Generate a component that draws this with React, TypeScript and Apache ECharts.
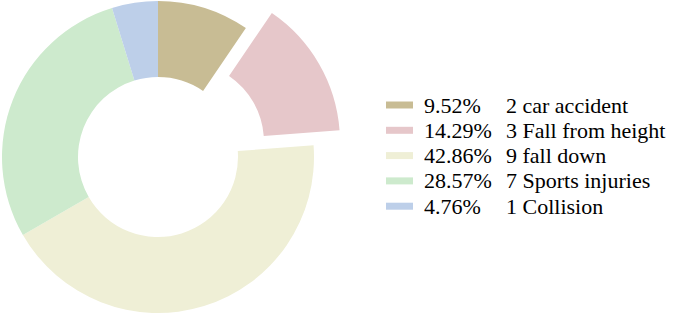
import React, { useEffect, useRef } from "react";
import * as echarts from "echarts";

const categories = ["2 car accident", "3 Fall from height", "9 fall down", "7 Sports injuries", "1 Collision"];
const values = [2, 3, 9, 6, 1];
const colors = ["#c8bc94", "#e6c7ca", "#efefd6", "#cdeacd", "#bdcfe9"];
const explodedIndex = 1;

export default function App() {
  const ref = useRef<HTMLDivElement>(null);
  useEffect(() => {
    if (!ref.current) return;
    const chart = echarts.init(ref.current, null, { renderer: "svg" });
    const total = values.reduce((a, b) => a + b, 0);
    const serif = "Liberation Serif";
    chart.setOption({
      animation: false,
      legend: {
        orient: "vertical",
        left: 381,
        top: 89,
        itemWidth: 27,
        itemHeight: 7,
        itemGap: 3.3,
        icon: "rect",
        selectedMode: false,
        data: categories,
        formatter: (name: string) => {
          const i = categories.indexOf(name);
          const pct = ((values[i] / total) * 100).toFixed(2) + "%";
          return `{p|${pct}}{n|${name}}`;
        },
        textStyle: {
          fontFamily: serif,
          fontSize: 22,
          color: "#000",
          padding: [0, 0, 0, 6],
          rich: {
            p: { width: 82, fontFamily: serif, fontSize: 22, lineHeight: 22, color: "#000" },
            n: { fontFamily: serif, fontSize: 22, lineHeight: 22, color: "#000" },
          },
        },
      },
      series: [
        {
          type: "pie",
          center: [158, 157],
          radius: [80, 156],
          startAngle: 90,
          clockwise: true,
          selectedMode: "single",
          selectedOffset: 30,
          label: { show: false },
          labelLine: { show: false },
          emphasis: { disabled: true },
          data: categories.map((name, i) => ({
            name,
            value: values[i],
            selected: i === explodedIndex,
            itemStyle: { color: colors[i] },
          })),
        },
      ],
    });
    return () => chart.dispose();
  }, []);
  return <div ref={ref} style={{ width: 677, height: 316, position: "absolute", left: 0, top: 0 }} />;
}
